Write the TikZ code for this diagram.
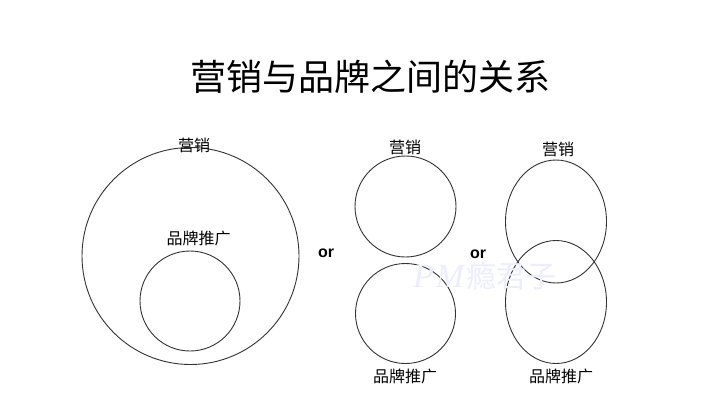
\documentclass[tikz,border=0pt]{standalone}
\usepackage{fontspec}
\usepackage{xcolor}
\newfontfamily\cjk{Noto Sans CJK SC}
\newfontfamily\markfont{Liberation Serif}
\setsansfont{Liberation Sans}

\tikzset{
    ring/.style={draw=black!80, line width=0.9pt},
    lbl/.style={font=\cjk\fontsize{16}{16}\selectfont, inner sep=0pt},
    ortext/.style={font=\sffamily\bfseries\fontsize{16}{16}\selectfont, inner sep=0pt},
}

\begin{document}
\begin{tikzpicture}[x=1pt, y=-1pt]

    \fill[white] (0,0) rectangle (720,405);
    \useasboundingbox (0,0) rectangle (720,405);

    % title
    \node[font=\cjk\fontsize{36}{36}\selectfont, inner sep=0pt] (title) at (370,77) {营销与品牌之间的关系};

    % first case: brand inside marketing
    \draw[ring] (190.5,256) circle (108.5pt);
    \draw[ring] (190,301) circle (50pt);
    \node[lbl] (mkA) at (194,145) {营销};
    \node[lbl] (brA) at (198.5,238) {品牌推广};

    \node[ortext] (orA) at (326,253) {or};

    % second case: separate
    \draw[ring] (405.5,206.5) circle (50.5pt);
    \draw[ring] (405.5,313.5) circle (50pt);
    \node[lbl] (mkB) at (405,147) {营销};
    \node[lbl] (brB) at (405,376) {品牌推广};

    \node[ortext] (orB) at (478,254) {or};

    % third case: overlapping
    \draw[ring] (556,221.5) ellipse [x radius=50.5pt, y radius=61.5pt];
    \draw[ring] (556,302) ellipse [x radius=50.5pt, y radius=61.5pt];
    \node[lbl] (mkC) at (558,149) {营销};
    \node[lbl] (brC) at (561,376) {品牌推广};

    % watermark
    \node[font=\cjk\fontsize{30}{30}\selectfont, text=blue!7!white, inner sep=0pt,
          text height=22pt, text depth=2pt, anchor=base west] (mark) at (413,287)
          {{\markfont\itshape\fontsize{34}{34}\selectfont P\kern2pt M\kern2pt}瘾君子};

\end{tikzpicture}
\end{document}
